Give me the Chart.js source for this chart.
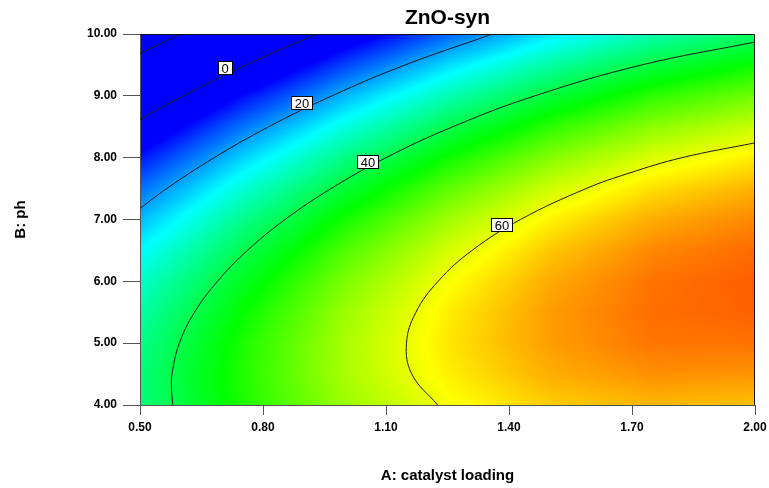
<!DOCTYPE html>
<html>
<head>
<meta charset="utf-8">
<title>ZnO-syn</title>
<script src="https://cdn.jsdelivr.net/npm/chart.js@4.4.1/dist/chart.umd.min.js"></script>
<style>
    body { margin: 0; background: #fff; }
    #chartBox { width: 769px; height: 488px; }
</style>
</head>
<body>
<div id="chartBox"><canvas id="contourChart" width="769" height="488"></canvas></div>
<script>
// Response surface (rows = pH, columns = catalyst loading)
const catalystLoading = [0.50, 0.75, 1.00, 1.25, 1.50, 1.75, 2.00];
const phLevels = [4.0, 4.5, 5.0, 5.5, 6.0, 6.5, 7.0, 7.5, 8.0, 8.5, 9.0, 9.5, 10.0];
const responseGrid = [
    [36.5, 46.7, 54.7, 60.5, 64.1, 65.5, 64.8],
    [36.5, 47.1, 55.6, 61.9, 66.1, 68.0, 67.8],
    [35.5, 46.6, 55.6, 62.5, 67.1, 69.6, 69.8],
    [33.5, 45.2, 54.7, 62.0, 67.2, 70.1, 70.9],
    [30.6, 42.8, 52.8, 60.6, 66.3, 69.8, 71.1],
    [26.8, 39.5, 50.0, 58.3, 64.5, 68.5, 70.3],
    [22.0, 35.2, 46.2, 55.0, 61.7, 66.2, 68.5],
    [16.2, 29.9, 41.5, 50.8, 58.0, 63.0, 65.8],
    [9.5, 23.7, 35.8, 45.6, 53.3, 58.8, 62.1],
    [1.9, 16.6, 29.1, 39.5, 47.7, 53.7, 57.5],
    [-6.7, 8.5, 21.6, 32.4, 41.1, 47.7, 52.0],
    [-16.3, -0.5, 13.0, 24.4, 33.6, 40.6, 45.5],
    [-26.8, -10.5, 3.6, 15.5, 25.2, 32.7, 38.0]
];

// Contour lines, [catalyst loading, pH] pairs
const contourMinus20 = [[0.500, 9.68], [0.552, 9.85], [0.600, 10.00]];
const contour0 = [[0.500, 8.61], [0.536, 8.75], [0.606, 9.00], [0.680, 9.25], [0.759, 9.50], [0.843, 9.75], [0.933, 10.00]];
const contour20 = [[0.500, 7.18], [0.565, 7.50], [0.681, 8.00], [0.814, 8.50], [0.968, 9.00], [1.147, 9.50], [1.360, 10.00]];
const contour40 = [[0.580, 4.00], [0.577, 4.25], [0.578, 4.50], [0.596, 5.00], [0.633, 5.50], [0.689, 6.00], [0.762, 6.50],
    [0.854, 7.00], [0.966, 7.50], [1.100, 8.00], [1.263, 8.50], [1.463, 9.00], [1.724, 9.50], [2.000, 9.87]];
const contour60 = [[1.226, 4.00], [1.163, 4.50], [1.150, 5.00], [1.173, 5.50], [1.227, 6.00], [1.310, 6.50], [1.428, 7.00],
    [1.588, 7.50], [1.693, 7.75], [1.822, 8.00], [2.000, 8.24]];

// Contour labels
const labelText = ['0', '20', '40', '60'];
const labelA = [0.707, 0.895, 1.055, 1.383];
const labelB = [9.45, 8.88, 7.93, 6.91];

// Tick labels
const aTicks = [0.50, 0.80, 1.10, 1.40, 1.70, 2.00];
const bTicks = [4, 5, 6, 7, 8, 9, 10];

// Colour ramp: blue -> cyan -> green -> yellow -> red
const rampValues = [8, 27, 45, 61, 77];
const rampColors = [[0, 0, 255], [0, 255, 255], [0, 255, 0], [255, 255, 0], [255, 0, 0]];

const FONT = '"Liberation Sans", Arial, sans-serif';

function findCell(list, v) {
    let i = 0;
    while (i < list.length - 2 && v > list[i + 1]) i++;
    let t = (v - list[i]) / (list[i + 1] - list[i]);
    return [i, Math.max(0, Math.min(1, t))];
}

function sampleGrid(a, b) {
    const [i, tx] = findCell(catalystLoading, a);
    const [j, ty] = findCell(phLevels, b);
    const v00 = responseGrid[j][i], v01 = responseGrid[j][i + 1];
    const v10 = responseGrid[j + 1][i], v11 = responseGrid[j + 1][i + 1];
    const lo = v00 + (v01 - v00) * tx;
    const hi = v10 + (v11 - v10) * tx;
    return lo + (hi - lo) * ty;
}

function colorFor(v) {
    if (v <= rampValues[0]) return rampColors[0];
    const last = rampValues.length - 1;
    if (v >= rampValues[last]) return rampColors[last];
    let k = 0;
    while (v > rampValues[k + 1]) k++;
    const t = (v - rampValues[k]) / (rampValues[k + 1] - rampValues[k]);
    const c0 = rampColors[k], c1 = rampColors[k + 1];
    return [0, 1, 2].map(n => c0[n] + (c1[n] - c0[n]) * t);
}

// Paint the coloured surface under everything else
const heatmapPlugin = {
    id: 'heatmap',
    beforeDraw(chart) {
        const { ctx, chartArea: area, scales } = chart;
        const w = Math.round(area.right - area.left);
        const h = Math.round(area.bottom - area.top);
        const off = document.createElement('canvas');
        off.width = w;
        off.height = h;
        const octx = off.getContext('2d');
        const img = octx.createImageData(w, h);
        for (let j = 0; j < h; j++) {
            const b = scales.y.getValueForPixel(area.top + j + 0.5);
            for (let i = 0; i < w; i++) {
                const a = scales.x.getValueForPixel(area.left + i + 0.5);
                const c = colorFor(sampleGrid(a, b));
                const p = (j * w + i) * 4;
                img.data[p] = c[0];
                img.data[p + 1] = c[1];
                img.data[p + 2] = c[2];
                img.data[p + 3] = 255;
            }
        }
        octx.putImageData(img, 0, 0);
        ctx.drawImage(off, area.left, area.top);
    }
};

// Label boxes on the contours and the top / right frame
const overlayPlugin = {
    id: 'overlay',
    afterDatasetsDraw(chart) {
        const { ctx, chartArea: area, scales } = chart;
        ctx.save();
        ctx.strokeStyle = '#111';
        ctx.lineWidth = 1;
        ctx.beginPath();
        ctx.moveTo(area.left, area.top + 0.5);
        ctx.lineTo(area.right - 0.5, area.top + 0.5);
        ctx.lineTo(area.right - 0.5, area.bottom);
        ctx.stroke();

        ctx.font = '13px ' + FONT;
        ctx.textAlign = 'center';
        ctx.textBaseline = 'middle';
        labelText.forEach((txt, k) => {
            const px = Math.round(scales.x.getPixelForValue(labelA[k]));
            const py = Math.round(scales.y.getPixelForValue(labelB[k]));
            const tw = Math.round(ctx.measureText(txt).width) + 7;
            const th = 13;
            ctx.fillStyle = '#fff';
            ctx.fillRect(px - tw / 2, py - th / 2, tw, th);
            ctx.strokeStyle = '#000';
            ctx.strokeRect(Math.floor(px - tw / 2) + 0.5, Math.floor(py - th / 2) + 0.5, tw, th);
            ctx.fillStyle = '#000';
            ctx.fillText(txt, px, py + 1);
        });
        ctx.restore();
    }
};

function contourSet(points) {
    return {
        data: points.map(p => ({ x: p[0], y: p[1] })),
        showLine: true,
        borderColor: '#1a1a1a',
        borderWidth: 1,
        pointRadius: 0,
        tension: 0.4,
        fill: false
    };
}

const tickFont = { family: FONT, size: 12, weight: 'bold' };
const titleFont = { family: FONT, size: 15, weight: 'bold' };

new Chart(document.getElementById('contourChart'), {
    type: 'scatter',
    data: {
        datasets: [contourMinus20, contour0, contour20, contour40, contour60].map(contourSet)
    },
    options: {
        responsive: false,
        animation: false,
        events: [],
        layout: { padding: { left: 0, right: 14, top: 0, bottom: 0 } },
        plugins: {
            legend: { display: false },
            tooltip: { enabled: false },
            title: {
                display: true,
                text: 'ZnO-syn',
                fullSize: false,
                color: '#000',
                font: { family: FONT, size: 21, weight: 'bold' },
                padding: { top: 6, bottom: 2.8 }
            }
        },
        scales: {
            x: {
                type: 'linear',
                min: 0.5,
                max: 2.0,
                afterBuildTicks: s => { s.ticks = aTicks.map(v => ({ value: v })); },
                afterFit: s => { s.height = 83; s.paddingLeft = 0; s.paddingRight = 0; },
                ticks: {
                    color: '#000',
                    font: tickFont,
                    padding: 5,
                    maxRotation: 0,
                    callback: v => Number(v).toFixed(2)
                },
                grid: { drawOnChartArea: false, tickLength: 10, color: '#555' },
                border: { color: '#555' },
                title: {
                    display: true,
                    text: 'A: catalyst loading',
                    color: '#000',
                    font: titleFont,
                    padding: { bottom: 3 }
                }
            },
            y: {
                type: 'linear',
                min: 4,
                max: 10,
                afterBuildTicks: s => { s.ticks = bTicks.map(v => ({ value: v })); },
                afterFit: s => { s.width = 140; s.paddingTop = 0; s.paddingBottom = 0; },
                ticks: {
                    color: '#000',
                    font: tickFont,
                    padding: 6,
                    callback: v => Number(v).toFixed(2)
                },
                grid: { drawOnChartArea: false, tickLength: 17, color: '#555' },
                border: { color: '#555' },
                title: {
                    display: true,
                    text: 'B: ph',
                    color: '#000',
                    font: titleFont,
                    padding: { top: 12 }
                }
            }
        }
    },
    plugins: [heatmapPlugin, overlayPlugin]
});
</script>
</body>
</html>
